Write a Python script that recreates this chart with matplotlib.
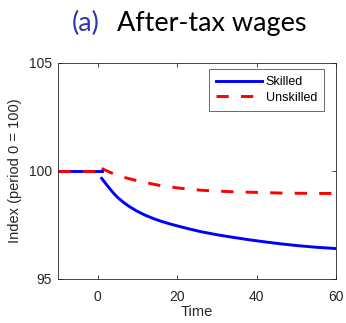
import matplotlib
matplotlib.use("Agg")
import matplotlib.pyplot as plt

# Data
pre_time = [-10, -5, 0, 1]
pre_skilled = [100, 100, 100, 100]
pre_unskilled = [100, 100, 100, 100]

time = [1, 2, 3, 4, 5, 6, 7, 8, 10, 12, 14, 16, 18, 20, 23, 26, 30, 34, 38, 42, 46, 50, 55, 60]
skilled = [99.66, 99.42, 99.19, 98.97, 98.78, 98.62, 98.48, 98.35, 98.13, 97.95, 97.80, 97.67,
           97.56, 97.46, 97.32, 97.19, 97.05, 96.93, 96.82, 96.72, 96.63, 96.55, 96.47, 96.41]
unskilled = [100.12, 100.03, 99.95, 99.87, 99.80, 99.74, 99.69, 99.64, 99.55, 99.47, 99.39, 99.32,
             99.27, 99.22, 99.16, 99.11, 99.07, 99.04, 99.02, 99.00, 98.98, 98.97, 98.96, 98.96]

xticks = [0, 20, 40, 60]
yticks = [95, 100, 105]

W, H = 346, 323
fig = plt.figure(figsize=(W / 100, H / 100), dpi=100)
ax = fig.add_axes([58 / W, 1 - 279 / H, 278 / W, 216 / H])

blue = "#0000FF"
red = "#FF0000"
dash = (0, (4.2, 4.2))
ax.plot(time, skilled, color=blue, lw=2.1, label="Skilled")
ax.plot(time, unskilled, color=red, lw=2.1, ls=dash, label="Unskilled")
ax.plot(pre_time, pre_skilled, color=blue, lw=2.1)
ax.plot(pre_time, pre_unskilled, color=red, lw=2.1, ls=dash)

ax.set_xlim(-10, 60)
ax.set_ylim(95, 105)
ax.set_xticks(xticks)
ax.set_yticks(yticks)
ax.tick_params(direction="in", top=True, right=True, labelsize=10, colors="#262626",
               length=3, width=0.6, labelcolor="#262626")
ax.tick_params(axis="x", pad=8)
ax.tick_params(axis="y", pad=4.5)
for lbl in ax.get_xticklabels() + ax.get_yticklabels():
    lbl.set_family("Liberation Sans")
for s in ax.spines.values():
    s.set_color("#262626")
    s.set_linewidth(0.6)

ax.set_xlabel("Time", fontsize=10.5, family="Liberation Sans", color="#262626", labelpad=1)
ax.set_ylabel("Index (period 0 = 100)", fontsize=10.5, family="Liberation Sans", color="#262626", labelpad=5)

leg = ax.legend(loc="upper right", bbox_to_anchor=(0.957, 0.972), borderaxespad=0,
                prop={"family": "Liberation Sans", "size": 9},
                frameon=True, fancybox=False, edgecolor="#262626", handlelength=3.7,
                borderpad=0.55, labelspacing=0.3, handletextpad=0.3)
leg.get_frame().set_linewidth(0.6)

# Title: "(a)" coloured, rest black; scale to match reference width
t1 = fig.text(72 / W, 1 - 31 / H, "(a)", color="#3333B2", fontsize=17, family="Lato",
              ha="left", va="baseline")
t2 = fig.text(117 / W, 1 - 31 / H, "After-tax wages", color="black", fontsize=17, family="Lato",
              ha="left", va="baseline")
fig.canvas.draw()
r = fig.canvas.get_renderer()
w2 = t2.get_window_extent(r).width
t2.set_fontsize(17 * 190 / w2)
t1.set_fontsize(17 * 190 / w2)

fig.savefig("out.png", dpi=100)
